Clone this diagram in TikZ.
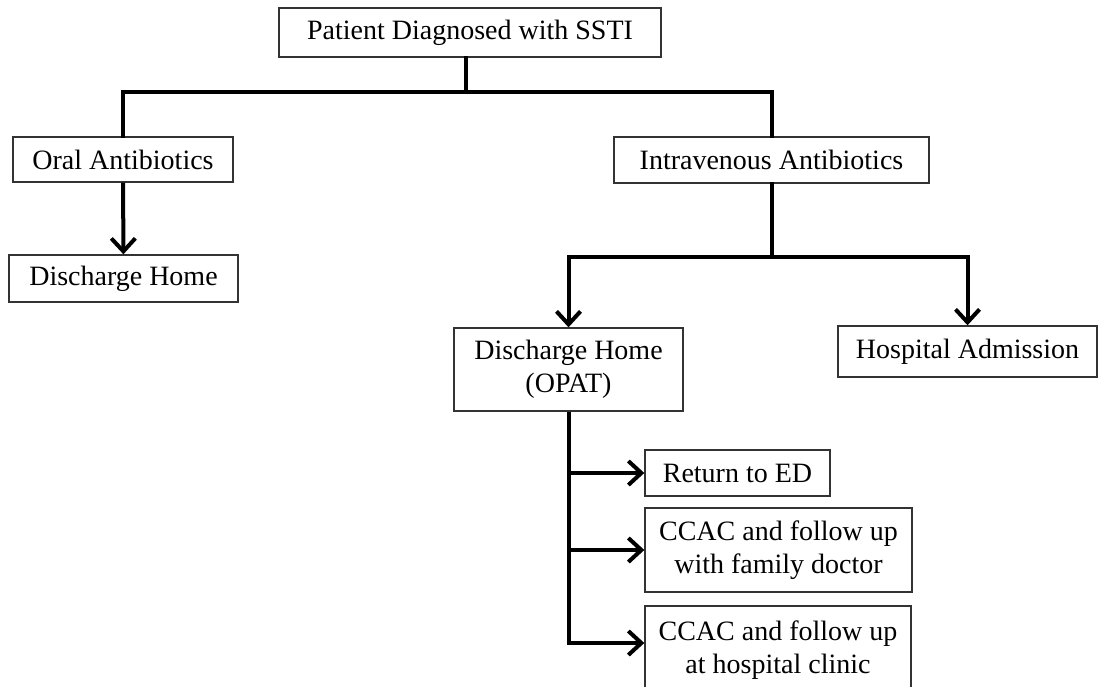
\documentclass[tikz,border=0pt]{standalone}
\usepackage{fontspec}
\setmainfont{Liberation Serif}
\usepackage{tikz}
\usetikzlibrary{positioning,arrows.meta,calc}
\definecolor{flowink}{HTML}{000000}
\definecolor{flowedge}{HTML}{333333}
\tikzset{
  box/.style  ={draw=flowedge,line width=1.4pt,fill=white,align=center,inner sep=0pt,font=\fontsize{28}{33}\selectfont},
  link/.style ={line width=4pt,draw=flowink,line cap=rect},
  arr/.style  ={link,line cap=butt,-{Straight Barb[length=13pt,width=24pt,line width=4pt]}},
}
\begin{document}
\begin{tikzpicture}[x=1pt,y=-1pt]
  \useasboundingbox (0,0) rectangle (1099,687);

  \node[box, minimum width=382pt, minimum height=49pt] (ssti)   at (470,32.5)   {Patient Diagnosed with SSTI};
  \node[box, minimum width=220pt, minimum height=45pt] (oral)   at (123,159.5)  {Oral Antibiotics};
  \node[box, minimum width=229pt, minimum height=47pt] (home)   at (123.5,278.5){Discharge Home};
  \node[box, minimum width=315pt, minimum height=46pt] (iv)     at (771.5,160)  {Intravenous Antibiotics};
  \node[box, minimum width=229pt, minimum height=83pt] (opat)   at (568.5,369.5){Discharge Home\\(OPAT)};
  \node[box, minimum width=259pt, minimum height=51pt] (admit)  at (967.5,351.5){Hospital Admission};
  \node[box, minimum width=185pt, minimum height=46pt] (ed)     at (737.5,473)  {Return to ED};
  \node[box, minimum width=267pt, minimum height=84pt] (family) at (778.5,550)  {CCAC and follow up\\with family doctor};
  \node[box, minimum width=266pt, minimum height=88pt] (clinic) at (778,650)    {CCAC and follow up\\at hospital clinic};

  \coordinate (split1) at (466,92);
  \coordinate (split2) at (771.5,257);

  \draw[link] (ssti.south -| split1) -- (split1);
  \draw[link] (oral.north) |- (split1) -| (iv.north);
  \draw[arr] (oral) -- (home);

  \draw[link] (iv.south) -- (split2);
  \draw[link] (opat.north |- split2) -- (admit.north |- split2);
  \draw[arr] (opat.north |- split2) -- (opat.north);
  \draw[arr] (admit.north |- split2) -- (admit.north);

  \draw[arr] (opat.south) |- ([yshift=7pt]clinic.west);
  \draw[arr] (opat.south |- ed.west) -- (ed.west);
  \draw[arr] (opat.south |- family.west) -- (family.west);
\end{tikzpicture}
\end{document}
